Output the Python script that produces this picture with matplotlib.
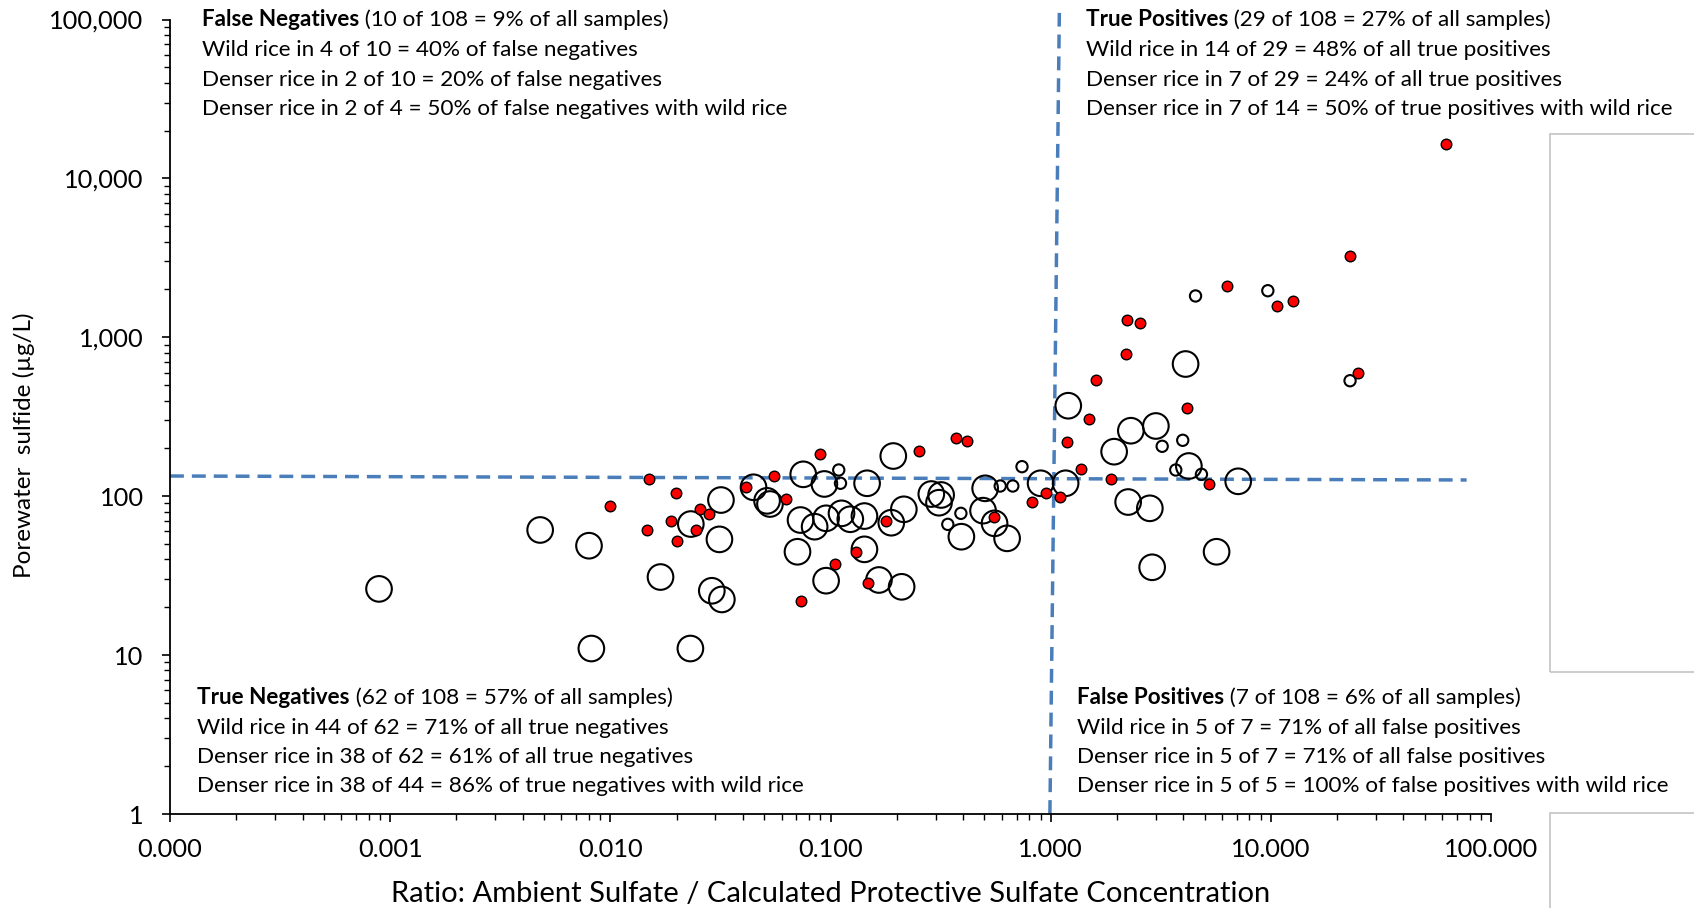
import numpy as np
import matplotlib.pyplot as plt
from matplotlib.patches import Rectangle
from matplotlib.ticker import LogLocator, NullFormatter

plt.rcParams['font.family'] = ['Lato', 'DejaVu Sans']

# sites drawn as larger open circles
big_ratio = [0.00089, 0.0048, 0.0080, 0.0082, 0.0169, 0.0231, 0.0232, 0.0289, 0.0321, 0.0318,
             0.0313, 0.0447, 0.0531, 0.0515, 0.0752, 0.0938, 0.1466, 0.0731, 0.0847, 0.0955,
             0.1122, 0.123, 0.1426, 0.0708, 0.1426, 0.0955, 0.166, 0.2104, 0.1888, 0.2153,
             0.1928, 0.287, 0.318, 0.311, 0.393, 0.504, 0.493, 0.556, 0.634, 0.900,
             1.169, 1.202, 1.942, 2.313, 3.005, 4.243, 4.10, 7.11, 2.249, 2.821, 5.67, 2.89]
big_sulfide = [26.1, 61.3, 48.8, 11.0, 31.0, 11.0, 66.8, 25.4, 22.4, 94.6,
               53.5, 113.8, 89.3, 93.5, 137.3, 119.4, 120.6, 70.8, 64.3, 72.6,
               78.0, 71.6, 75.0, 44.7, 46.3, 29.4, 29.7, 26.9, 68.1, 82.7,
               179, 103.2, 101.8, 91.0, 55.6, 112.1, 81.1, 67.5, 54.3, 120.6,
               120.6, 371, 190.6, 258.3, 276.6, 154.9, 679, 124.1, 91.9, 83.9, 44.7, 35.7]

# smaller open circles
small_ratio = [0.109, 0.111, 0.391, 0.341, 0.590, 0.673, 0.741, 3.21, 3.98, 3.70, 4.84, 4.55, 9.69, 22.9]
small_sulfide = [146.2, 120.6, 78.0, 66.5, 115.9, 115.9, 153.4, 206.1, 224.8, 146.2, 137.3, 1820, 1964, 533]

# red filled points
red_ratio = [0.00993, 0.01496, 0.01986, 0.01465, 0.01892, 0.02558, 0.02805, 0.02437, 0.02004, 0.0413,
             0.0551, 0.0626, 0.0895, 0.1306, 0.1047, 0.0731, 0.1485, 0.178, 0.253, 0.372,
             0.417, 0.552, 0.824, 0.955, 1.107, 1.380, 1.870, 1.492, 1.185, 1.604,
             2.196, 2.218, 2.534, 4.17, 5.25, 6.29, 10.65, 12.56, 22.85, 25.0, 62.4]
red_sulfide = [86.8, 128.9, 104.3, 61.3, 69.5, 83.4, 77.3, 61.3, 52.5, 113.8,
               134.6, 95.6, 184.4, 44.7, 37.6, 22.0, 28.6, 70.1, 193.3, 233.5,
               222.5, 74.3, 92.3, 104.3, 98.4, 147.6, 127.8, 307.5, 219.3, 538.6,
               785, 1279, 1236, 359, 119.4, 2113, 1574, 1700, 3249, 593, 16400]

# threshold lines
h_line_ratio = [0.0001, 77.5]
h_line_sulfide = [134, 126.5]
v_line_ratio = [0.992, 1.095]
v_line_sulfide = [1, 110000]

xtick_vals = [0.0001, 0.001, 0.01, 0.1, 1, 10, 100]
xtick_labels = ['0.000', '0.001', '0.010', '0.100', '1.000', '10.000', '100.000']
ytick_vals = [1, 10, 100, 1000, 10000, 100000]
ytick_labels = ['1', '10', '100', '1,000', '10,000', '100,000']

quad_titles = ['False Negatives', 'True Positives', 'True Negatives', 'False Positives']
quad_counts = ['(10 of 108 = 9% of all samples)', '(29 of 108 = 27% of all samples)',
               '(62 of 108 = 57% of all samples)', '(7 of 108 = 6% of all samples)']
quad_lines = [
    ['Wild rice in 4 of 10 = 40% of false negatives',
     'Denser rice in 2 of 10 = 20% of false negatives',
     'Denser rice in 2 of 4 = 50% of false negatives with wild rice'],
    ['Wild rice in 14 of 29 = 48% of all true positives',
     'Denser rice in 7 of 29 = 24% of all true positives',
     'Denser rice in 7 of 14 = 50% of true positives with wild rice'],
    ['Wild rice in 44 of 62 = 71% of all true negatives',
     'Denser rice in 38 of 62 = 61% of all true negatives',
     'Denser rice in 38 of 44 = 86% of true negatives with wild rice'],
    ['Wild rice in 5 of 7 = 71% of all false positives',
     'Denser rice in 5 of 7 = 71% of all false positives',
     'Denser rice in 5 of 5 = 100% of false positives with wild rice'],
]
# baseline of the first line of each block (pixels from top-left of the image)
quad_pos = [(202, 26.5), (1086, 26.5), (197, 704), (1077, 704)]

W, H = 1694, 908


def fxy(px, py):
    return px / W, 1 - py / H


fig = plt.figure(figsize=(W / 100, H / 100), dpi=100)
ax = fig.add_axes([170 / W, 1 - 814 / H, (1491 - 170) / W, (814 - 19.5) / H])
ax.set_xscale('log')
ax.set_yscale('log')

ax.plot(h_line_ratio, h_line_sulfide, color='#4a7ebb', lw=2.5, dashes=(4.0, 2.3), zorder=2)
ax.plot(v_line_ratio, v_line_sulfide, color='#4a7ebb', lw=2.5, dashes=(4.0, 2.3), zorder=2, clip_on=False)

ax.scatter(big_ratio, big_sulfide, s=340, facecolors='none', edgecolors='black', linewidths=1.5, zorder=3)
ax.scatter(small_ratio, small_sulfide, s=66, facecolors='none', edgecolors='black', linewidths=1.5, zorder=3)
ax.scatter(red_ratio, red_sulfide, s=58, facecolors='red', edgecolors='black', linewidths=1.0, zorder=4)

ax.set_xlim(1e-4, 100)
ax.set_ylim(1, 1e5)
ax.set_xticks(xtick_vals, xtick_labels)
ax.set_yticks(ytick_vals, ytick_labels)
ax.xaxis.set_minor_locator(LogLocator(base=10, subs=np.arange(2, 10)))
ax.yaxis.set_minor_locator(LogLocator(base=10, subs=np.arange(2, 10)))
ax.xaxis.set_minor_formatter(NullFormatter())
ax.yaxis.set_minor_formatter(NullFormatter())
ax.tick_params(which='major', direction='out', length=6, width=1.2, labelsize=18.3)
ax.tick_params(axis='y', which='major', pad=13)
ax.tick_params(axis='x', which='major', pad=11)
ax.tick_params(which='minor', direction='out', length=4.5, width=1.0)
for s in ['top', 'right']:
    ax.spines[s].set_visible(False)
for s in ['left', 'bottom']:
    ax.spines[s].set_linewidth(1.3)

fig.text(*fxy(830.5, 894), 'Ratio: Ambient Sulfate / Calculated Protective Sulfate Concentration',
         fontsize=21, ha='center', va='center')
fig.text(*fxy(24, 445), 'Porewater  sulfide (µg/L)', fontsize=17.5, ha='center', va='center', rotation=90)

# pieces of a box at the right edge
fig.add_artist(Rectangle(fxy(1550, 672), 0.2, (672 - 134) / H, transform=fig.transFigure,
                         fill=False, ec='#c4c4c4', lw=1.2))
fig.add_artist(Rectangle(fxy(1550, 960), 0.2, (960 - 812.5) / H, transform=fig.transFigure,
                         fill=False, ec='#c4c4c4', lw=1.2))

fs = 16.2
line_gap = 29.5
bold_texts = []
for (px, py), title in zip(quad_pos, quad_titles):
    t = fig.text(*fxy(px, py), title, fontsize=fs, fontweight='bold', ha='left', va='baseline')
    bold_texts.append(t)

fig.canvas.draw()
renderer = fig.canvas.get_renderer()
for t, (px, py), count, lines in zip(bold_texts, quad_pos, quad_counts, quad_lines):
    bb = t.get_window_extent(renderer)
    fig.text(bb.x1 / W, 1 - py / H, ' ' + count, fontsize=fs, ha='left', va='baseline')
    for i, line in enumerate(lines):
        fig.text(*fxy(px, py + line_gap * (i + 1)), line, fontsize=fs, ha='left', va='baseline')

fig.savefig('out.png', dpi=100)
